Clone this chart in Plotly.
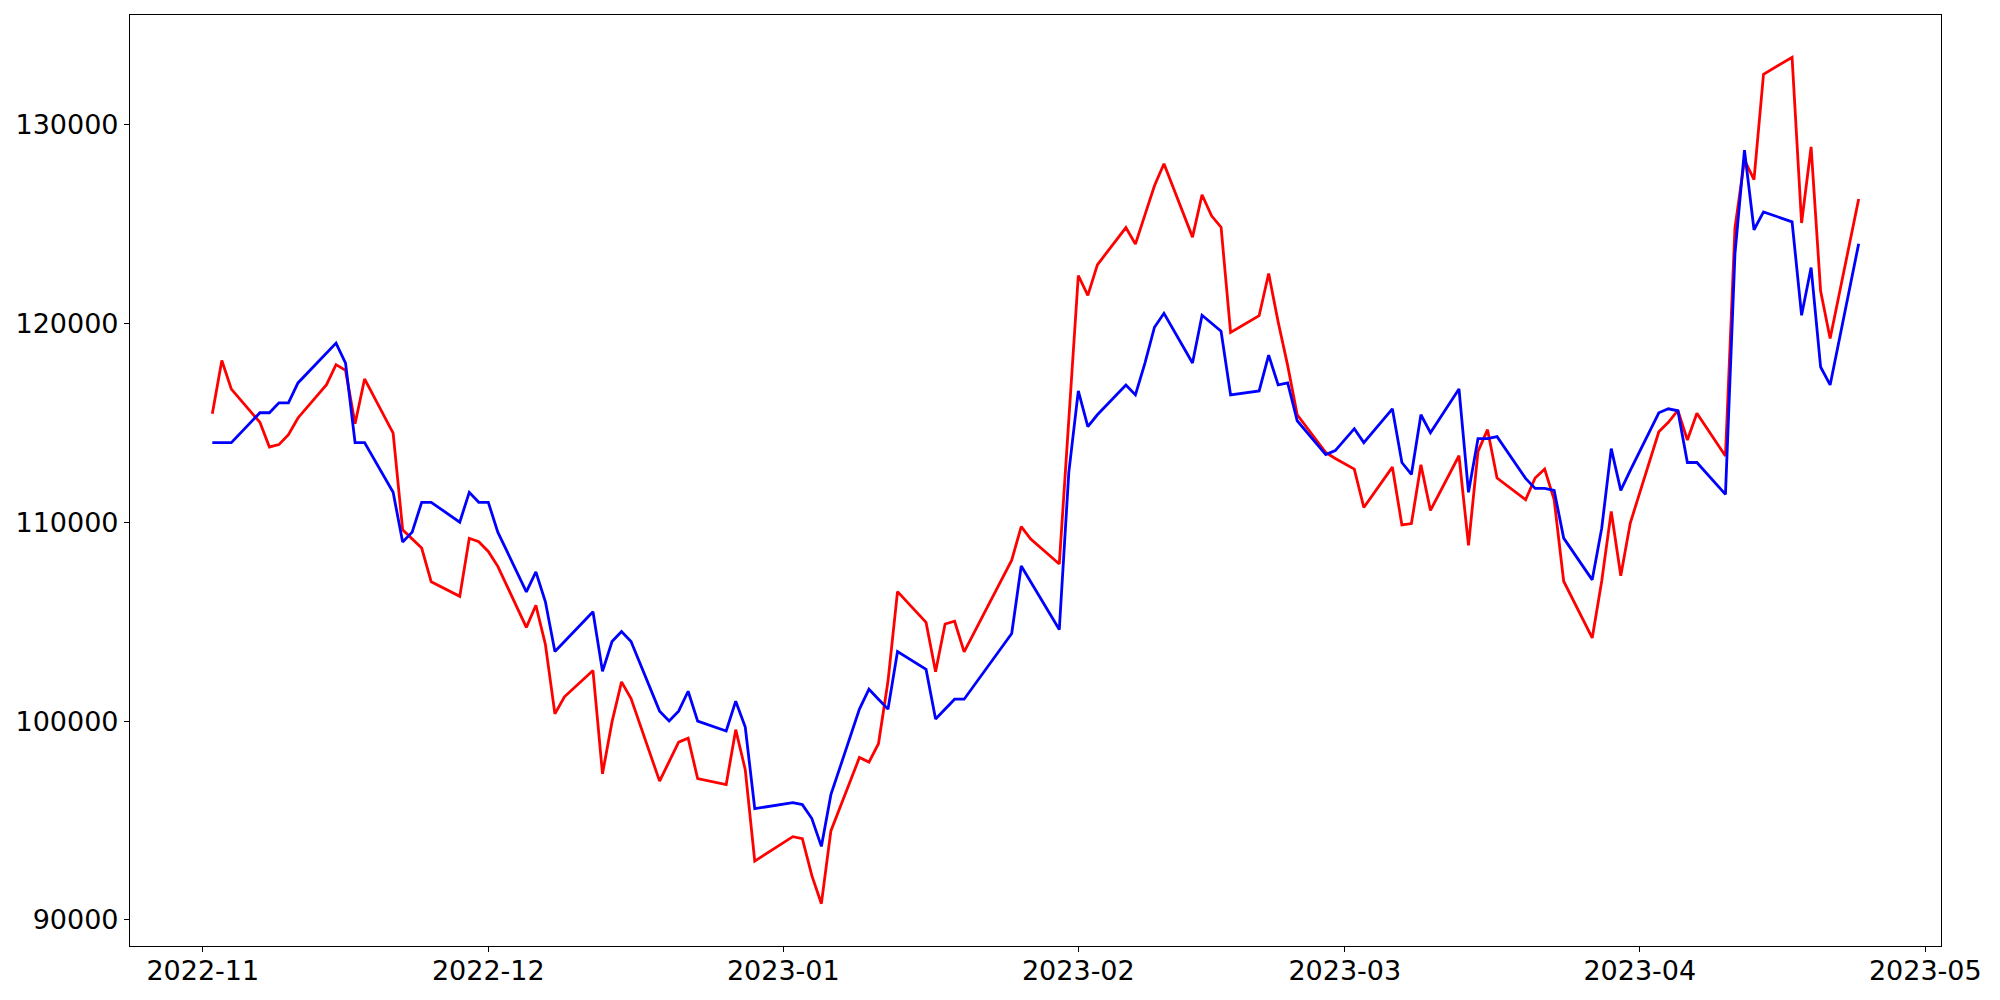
import pandas as pd
import plotly.graph_objects as go

# trading days per month (KRX calendar)
trading_days = {
    "2022-11": [2, 3, 4, 7, 8, 9, 10, 11, 14, 15, 16, 17, 18, 21, 22, 23, 24, 25, 28, 29, 30],
    "2022-12": [1, 2, 5, 6, 7, 8, 9, 12, 13, 14, 15, 16, 19, 20, 21, 22, 23, 26, 27, 28, 29],
    "2023-01": [2, 3, 4, 5, 6, 9, 10, 11, 12, 13, 16, 17, 18, 19, 20, 25, 26, 27, 30, 31],
    "2023-02": [1, 2, 3, 6, 7, 8, 9, 10, 13, 14, 15, 16, 17, 20, 21, 22, 23, 24, 27, 28],
    "2023-03": [2, 3, 6, 7, 8, 9, 10, 13, 14, 15, 16, 17, 20, 21, 22, 23, 24, 27, 28, 29, 30, 31],
    "2023-04": [3, 4, 5, 6, 7, 10, 11, 12, 13, 14, 17, 18, 19, 20, 21, 24],
}

predicted = [
    115450, 118130, 116690, 115020, 113780, 113900, 114400, 115240, 116910, 117920, 117630,
    114950, 117200, 114480, 109620, 109160, 108700, 107000, 106270, 109190, 109020,
    108530, 107780, 104710, 105820, 103850, 100360, 101220, 102540, 97350, 99960, 101970,
    101130, 96980, 97980, 98940, 99140, 97110, 96810, 99570, 97560, 92960,
    94190, 94090, 92230, 90820, 94480, 98170, 97940, 98860, 102000, 106510,
    104960, 102480, 104880, 105020, 103480, 108090, 109780, 109150, 107900, 115000,
    122400, 121400, 122940, 124810, 123980, 125450, 126910, 128020, 124330, 126460,
    125400, 124830, 119540, 120380, 122500, 120060, 117870, 115400, 113500, 113200,
    112670, 110740, 112770, 109860, 109930, 112890, 110590, 113340, 108840, 113560, 114650,
    112220, 111130, 112220, 112670, 111130, 107030, 104180, 107040, 110540, 107310, 109960,
    114540, 115020, 115620, 114130, 115480, 113330, 124800, 128200, 127220, 132520,
    133370, 125040, 128870, 121620, 119230, 126250,
]

actual = [
    114000, 114000, 114000, 115500, 115500, 116000, 116000, 117000, 118500, 119000, 118000,
    114000, 114000, 111500, 109000, 109500, 111000, 111000, 110000, 111500, 111000,
    111000, 109500, 106500, 107500, 106000, 103500, 104000, 105500, 102500, 104000, 104500,
    104000, 100500, 100000, 100500, 101500, 100000, 99500, 101000, 99700, 95600,
    95900, 95800, 95100, 93700, 96300, 100600, 101600, 101100, 100600, 103500,
    102600, 100100, 100600, 101100, 101100, 104400, 107800, 107000, 104600, 112500,
    116600, 114800, 115400, 116900, 116400, 118000, 119800, 120500, 118000, 120400,
    120000, 119600, 116400, 116600, 118400, 116900, 117000, 115100, 113400, 113600,
    114700, 114000, 115700, 113000, 112400, 115400, 114500, 116700, 111500, 114200, 114200,
    114300, 112200, 111700, 111700, 111600, 109200, 107100, 109700, 113700, 111600, 112600,
    115500, 115700, 115600, 113000, 113000, 111400, 123500, 128700, 124700, 125600,
    125100, 120400, 122800, 117800, 116900, 124000,
]

dates = pd.to_datetime([f"{m}-{d:02d}" for m, days in trading_days.items() for d in days])

# matplotlib-like 5% margins
span = dates.max() - dates.min()
x_range = [dates.min() - span * 0.05, dates.max() + span * 0.05]
lo = min(min(predicted), min(actual))
hi = max(max(predicted), max(actual))
y_range = [lo - (hi - lo) * 0.05, hi + (hi - lo) * 0.05]

fig = go.Figure()
fig.add_trace(
    go.Scatter(x=dates, y=predicted, mode="lines", line=dict(color="#ff0000", width=2.8))
)
fig.add_trace(
    go.Scatter(x=dates, y=actual, mode="lines", line=dict(color="#0000ff", width=2.8))
)

axis_style = dict(
    showline=True,
    linecolor="black",
    linewidth=1.1,
    mirror=True,
    ticks="outside",
    ticklen=5,
    tickwidth=1.1,
    tickcolor="black",
    showgrid=False,
    zeroline=False,
    tickfont=dict(family="DejaVu Sans", size=27, color="black"),
)

# page body adds an 8px offset, margins compensate for it
fig.update_layout(
    width=2000,
    height=1000,
    margin=dict(l=122, r=67, t=7, b=62),
    paper_bgcolor="white",
    plot_bgcolor="white",
    showlegend=False,
)
fig.update_xaxes(
    range=x_range,
    dtick="M1",
    tick0="2022-11-01",
    tickformat="%Y-%m",
    ticklabelstandoff=-4,
    **axis_style,
)
fig.update_yaxes(
    range=y_range,
    tickvals=[90000, 100000, 110000, 120000, 130000],
    tickformat="d",
    **axis_style,
)

fig.write_html("out.html")
